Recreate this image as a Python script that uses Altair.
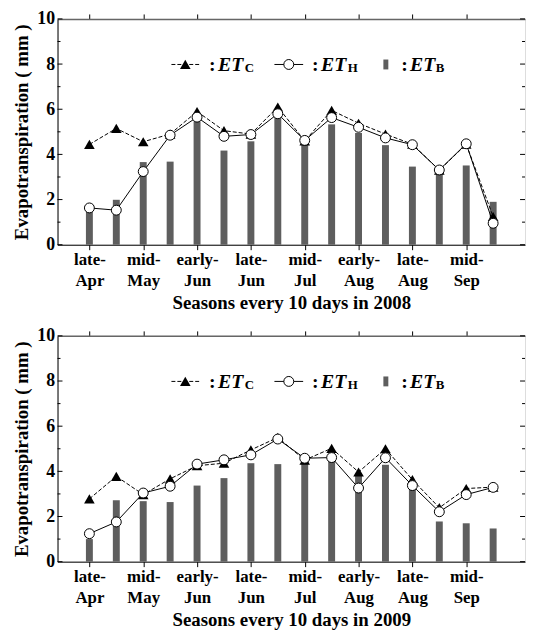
import json
import altair as alt
import pandas as pd

periods = ["late-Apr", "early-May", "mid-May", "late-May", "early-Jun", "mid-Jun",
           "late-Jun", "early-Jul", "mid-Jul", "late-Jul", "early-Aug", "mid-Aug",
           "late-Aug", "early-Sep", "mid-Sep", "late-Sep"]

etc_2008 = [4.44, 5.15, 4.56, 4.9, 5.9, 5.05, 4.9, 6.1, 4.6, 5.95, 5.38, 4.9, 4.45, 3.3, 4.45, 1.25]
eth_2008 = [1.63, 1.53, 3.24, 4.85, 5.65, 4.8, 4.88, 5.8, 4.62, 5.63, 5.2, 4.73, 4.43, 3.31, 4.47, 0.95]
etb_2008 = [1.55, 1.99, 3.66, 3.68, 5.46, 4.17, 4.58, 5.61, 4.44, 5.33, 4.95, 4.41, 3.46, 3.2, 3.51, 1.9]

etc_2009 = [2.78, 3.78, 2.97, 3.67, 4.25, 4.36, 4.95, 5.5, 4.5, 5.02, 3.97, 5.0, 3.63, 2.39, 3.24, 3.3]
eth_2009 = [1.24, 1.76, 3.04, 3.34, 4.32, 4.51, 4.73, 5.43, 4.58, 4.61, 3.26, 4.6, 3.37, 2.21, 2.97, 3.29]
etb_2009 = [1.0, 2.72, 2.68, 2.64, 3.37, 3.7, 4.36, 4.32, 4.45, 4.6, 3.9, 4.29, 3.3, 1.78, 1.7, 1.47]

x_tick_values = [0, 2, 4, 6, 8, 10, 12, 14]
y_major = [0, 2, 4, 6, 8, 10]
y_minor = [1, 3, 5, 7, 9]

FONT = "Liberation Serif"
W, H = 472, 228
BAR_COLOR = "#5e5e5e"

pairs = [[p.split("-")[0] + "-", p.split("-")[1]] for p in periods]
label_expr = json.dumps(pairs).replace('"', "'") + "[datum.value]"

xscale = alt.Scale(domain=[-1, 16], nice=False, zero=False)
yscale = alt.Scale(domain=[0, 10], nice=False)


def panel(year, etc, eth, etb):
    df = pd.DataFrame({"idx": list(range(len(periods))), "period": periods,
                       "ETC": etc, "ETH": eth, "ETB": etb})
    base = alt.Chart(df)
    bars = base.mark_bar(width=7, color=BAR_COLOR).encode(
        x=alt.X("idx:Q", scale=xscale,
                axis=alt.Axis(values=x_tick_values, labelExpr=label_expr,
                              title=f"Seasons every 10 days in {year}",
                              tickSize=5, tickColor="black", domainColor="black",
                              grid=False, labelAngle=0, labelFont=FONT,
                              labelFontWeight="bold", labelFontSize=17,
                              labelLineHeight=21, labelPadding=2, labelColor="black",
                              titleFont=FONT, titleFontWeight="bold", titleFontSize=19,
                              titlePadding=5, titleColor="black", labelFlush=False)),
        y=alt.Y("ETB:Q", scale=yscale,
                axis=alt.Axis(values=y_major, ticks=False, grid=False,
                              domainColor="black", labelFont=FONT,
                              labelFontWeight="bold", labelFontSize=18,
                              labelPadding=3, labelColor="black",
                              title="Evapotranspiration ( mm )", titleFont=FONT,
                              titleFontWeight="bold", titleFontSize=19,
                              titlePadding=5, titleColor="black")),
    )
    top_axis = base.mark_point(opacity=0).encode(
        x=alt.X("idx:Q", scale=xscale,
                axis=alt.Axis(orient="top", values=x_tick_values, labels=False,
                              tickSize=5, tickColor="black", domainColor="#666666",
                              domainWidth=1.5, grid=False, title=None)),
        y=alt.Y("ETB:Q", scale=yscale, axis=None),
    )
    xnone = alt.X("idx:Q", scale=xscale, axis=None)
    etc_line = base.mark_line(color="black", strokeWidth=1, strokeDash=[4, 2]).encode(
        x=xnone, y=alt.Y("ETC:Q", scale=yscale, axis=None))
    etc_pts = base.mark_point(shape="triangle-up", filled=True, color="black",
                              size=115, opacity=1).encode(
        x=xnone, y=alt.Y("ETC:Q", scale=yscale, axis=None))
    eth_line = base.mark_line(color="black", strokeWidth=1).encode(
        x=xnone, y=alt.Y("ETH:Q", scale=yscale, axis=None))
    eth_pts = base.mark_point(shape="circle", filled=True, fill="white",
                              stroke="black", strokeWidth=1, size=100,
                              opacity=1).encode(
        x=xnone, y=alt.Y("ETH:Q", scale=yscale, axis=None))

    maj = pd.DataFrame({"v": y_major})
    mino = pd.DataFrame({"v": y_minor})
    ticks = []
    for d, ln in ((maj, 5), (mino, 3)):
        ticks.append(alt.Chart(d).mark_rule(color="black", strokeWidth=1).encode(
            x=alt.value(0), x2=alt.value(ln), y=alt.Y("v:Q", scale=yscale, axis=None)))
        ticks.append(alt.Chart(d).mark_rule(color="black", strokeWidth=1).encode(
            x=alt.value(W - ln), x2=alt.value(W), y=alt.Y("v:Q", scale=yscale, axis=None)))

    one = pd.DataFrame({"a": [0]})
    L = alt.Chart(one)
    ly, lb = 46, 53
    legend = [
        L.mark_rule(color="black", strokeWidth=1, strokeDash=[4, 2]).encode(
            x=alt.value(115), x2=alt.value(144), y=alt.value(ly)),
        L.mark_point(shape="triangle-up", filled=True, color="black", size=115,
                     opacity=1).encode(x=alt.value(129), y=alt.value(ly)),
        L.mark_rule(color="black", strokeWidth=1).encode(
            x=alt.value(219), x2=alt.value(248), y=alt.value(ly)),
        L.mark_point(shape="circle", filled=True, fill="white", stroke="black",
                     strokeWidth=1, size=100, opacity=1).encode(
            x=alt.value(233.5), y=alt.value(ly)),
        L.mark_rect(color=BAR_COLOR).encode(
            x=alt.value(329), x2=alt.value(334), y=alt.value(ly - 5), y2=alt.value(ly + 5)),
    ]
    for xc, xe, xs, sub in ((153, 162, 189, "C"), (257, 266, 293, "H"), (347, 356, 382, "B")):
        legend.append(L.mark_text(text=":", font=FONT, fontWeight="bold", fontSize=20,
                                  align="left", baseline="alphabetic", color="black").encode(
            x=alt.value(xc), y=alt.value(lb)))
        legend.append(L.mark_text(text="ET", font=FONT, fontWeight="bold", fontStyle="italic",
                                  fontSize=20, align="left", baseline="alphabetic",
                                  color="black").encode(x=alt.value(xe), y=alt.value(lb)))
        legend.append(L.mark_text(text=sub, font=FONT, fontWeight="bold", fontSize=13,
                                  align="left", baseline="alphabetic", color="black").encode(
            x=alt.value(xs), y=alt.value(lb + 1)))

    return alt.layer(bars, top_axis, *ticks, etc_line, etc_pts, eth_line, eth_pts,
                     *legend).resolve_axis(x="independent", y="independent").properties(
        width=W, height=H)


chart = alt.vconcat(
    panel(2008, etc_2008, eth_2008, etb_2008),
    panel(2009, etc_2009, eth_2009, etb_2009),
    spacing=13,
).properties(
    padding={"left": 4, "top": -2, "right": 0, "bottom": 0}
).configure_view(
    stroke="#666666", strokeWidth=1.5
).configure(background="white")

chart.save("out.html", embed_options={"renderer": "svg", "actions": False})
